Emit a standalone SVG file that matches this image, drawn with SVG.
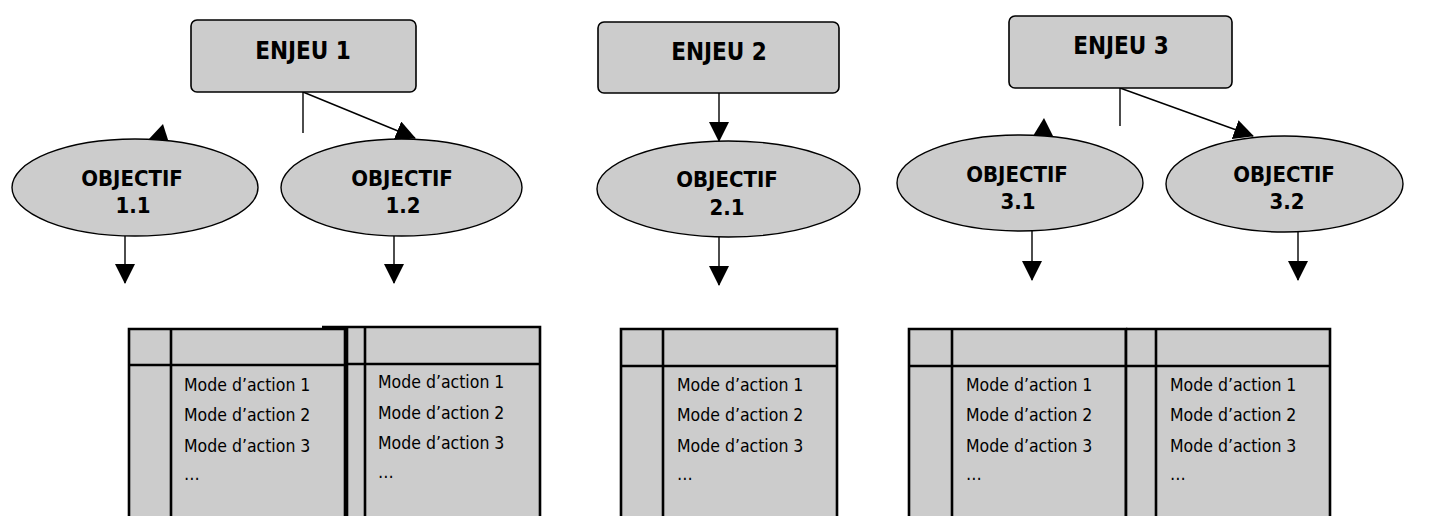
<svg xmlns="http://www.w3.org/2000/svg" width="1444" height="516" viewBox="0 0 1444 516">
<style>
.box{fill:#cccccc;stroke:#000;stroke-width:1.6}
.ell{fill:#cccccc;stroke:#000;stroke-width:1.4}
.t1{font-family:"DejaVu Sans Condensed","DejaVu Sans",Verdana,sans-serif;font-weight:bold;font-size:24px;fill:#000;text-anchor:middle}
.t2{font-family:"DejaVu Sans Condensed","DejaVu Sans",Verdana,sans-serif;font-weight:bold;font-size:22px;fill:#000;text-anchor:middle}
.tb{fill:#cccccc;stroke:none}
.bl{stroke:#000;stroke-width:2.6;fill:none}
.tx{font-family:"DejaVu Sans Condensed","DejaVu Sans",Tahoma,sans-serif;font-size:17.5px;fill:#000}
.cn{stroke:#000;stroke-width:1.4;fill:none}
.ah{fill:#000;stroke:none}
</style>
<defs>
<marker id="arr" markerUnits="userSpaceOnUse" markerWidth="20" markerHeight="20" refX="19" refY="10" orient="auto" viewBox="0 0 20 20">
<path d="M0,0 L20,10 L0,20 z" fill="#000"/>
</marker>
</defs>

<g id="connectors">
<line class="cn" x1="303" y1="92" x2="303" y2="133"/>
<line class="cn" x1="303" y1="92" x2="415" y2="138" marker-end="url(#arr)"/>
<polygon class="ah" points="163,124 148,140 169,143"/>
<line class="cn" x1="719" y1="93" x2="719" y2="141" marker-end="url(#arr)"/>
<line class="cn" x1="1120" y1="88" x2="1120" y2="126"/>
<line class="cn" x1="1120" y1="88" x2="1253" y2="136" marker-end="url(#arr)"/>
<polygon class="ah" points="1044,118 1033,136 1053,136"/>
<line class="cn" x1="125" y1="236" x2="125" y2="283" marker-end="url(#arr)"/>
<line class="cn" x1="394" y1="236" x2="394" y2="283" marker-end="url(#arr)"/>
<line class="cn" x1="719" y1="237" x2="719" y2="285" marker-end="url(#arr)"/>
<line class="cn" x1="1032" y1="231" x2="1032" y2="280" marker-end="url(#arr)"/>
<line class="cn" x1="1298" y1="232" x2="1298" y2="280" marker-end="url(#arr)"/>
</g>

<g id="enjeu1">
<rect class="box" x="191" y="20" width="225" height="72" rx="6"/>
<text class="t1" x="303" y="59">ENJEU 1</text>
</g>
<g id="enjeu2">
<rect class="box" x="598" y="22" width="241" height="71" rx="6"/>
<text class="t1" x="719" y="60">ENJEU 2</text>
</g>
<g id="enjeu3">
<rect class="box" x="1009" y="16" width="223" height="72" rx="6"/>
<text class="t1" x="1121" y="54">ENJEU 3</text>
</g>

<g id="obj11">
<ellipse class="ell" cx="135" cy="187.5" rx="123" ry="48.5"/>
<text class="t2" x="132" y="186">OBJECTIF</text>
<text class="t2" x="133" y="213">1.1</text>
</g>
<g id="obj12">
<ellipse class="ell" cx="401.5" cy="187.5" rx="120.5" ry="48.5"/>
<text class="t2" x="402" y="186">OBJECTIF</text>
<text class="t2" x="403" y="213">1.2</text>
</g>
<g id="obj21">
<ellipse class="ell" cx="728.5" cy="189" rx="131.5" ry="48"/>
<text class="t2" x="727" y="187">OBJECTIF</text>
<text class="t2" x="727" y="215">2.1</text>
</g>
<g id="obj31">
<ellipse class="ell" cx="1020" cy="183" rx="123" ry="48"/>
<text class="t2" x="1017" y="182">OBJECTIF</text>
<text class="t2" x="1018" y="209">3.1</text>
</g>
<g id="obj32">
<ellipse class="ell" cx="1284.5" cy="184" rx="118.5" ry="48"/>
<text class="t2" x="1284" y="182">OBJECTIF</text>
<text class="t2" x="1287" y="209">3.2</text>
</g>

<g id="table1">
<rect class="tb" x="129" y="329" width="216" height="190"/>
<path class="bl" d="M129,520 V329 H345 V520 M171,329 V520 M129,365 H345"/>
<text class="tx" x="184" y="391">Mode d’action 1</text>
<text class="tx" x="184" y="421">Mode d’action 2</text>
<text class="tx" x="184" y="452">Mode d’action 3</text>
<text class="tx" x="184" y="480">…</text>
</g>
<g id="table2">
<rect class="tb" x="347" y="327" width="193" height="192"/>
<path class="bl" d="M322,327 H540 V520 M347,327 V520 M365,327 V520 M347,364 H540"/>
<text class="tx" x="378" y="388">Mode d’action 1</text>
<text class="tx" x="378" y="419">Mode d’action 2</text>
<text class="tx" x="378" y="449">Mode d’action 3</text>
<text class="tx" x="378" y="478">…</text>
</g>
<g id="table3">
<rect class="tb" x="621" y="329" width="216" height="190"/>
<path class="bl" d="M621,520 V329 H837 V520 M663,329 V520 M621,366 H837"/>
<text class="tx" x="677" y="391">Mode d’action 1</text>
<text class="tx" x="677" y="421">Mode d’action 2</text>
<text class="tx" x="677" y="452">Mode d’action 3</text>
<text class="tx" x="677" y="480">…</text>
</g>
<g id="table4">
<rect class="tb" x="909" y="329" width="217" height="190"/>
<path class="bl" d="M909,520 V329 H1126 V520 M952,329 V520 M909,366 H1126"/>
<text class="tx" x="966" y="391">Mode d’action 1</text>
<text class="tx" x="966" y="421">Mode d’action 2</text>
<text class="tx" x="966" y="452">Mode d’action 3</text>
<text class="tx" x="966" y="480">…</text>
</g>
<g id="table5">
<rect class="tb" x="1127.3" y="329" width="202.7" height="190"/>
<path class="bl" d="M1126,329 H1330 V520 M1126,329 V520 M1156,329 V520 M1126,366 H1330"/>
<text class="tx" x="1170" y="391">Mode d’action 1</text>
<text class="tx" x="1170" y="421">Mode d’action 2</text>
<text class="tx" x="1170" y="452">Mode d’action 3</text>
<text class="tx" x="1170" y="480">…</text>
</g>
</svg>
